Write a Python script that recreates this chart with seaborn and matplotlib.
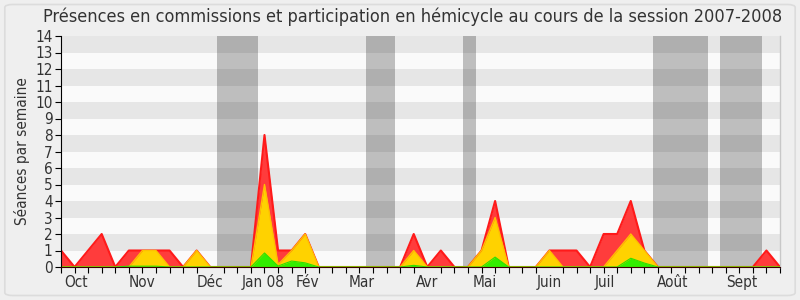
import numpy as np
import pandas as pd
import matplotlib
matplotlib.use("Agg")
import matplotlib.pyplot as plt
from matplotlib.patches import FancyBboxPatch
import seaborn as sns

# ---- data (weekly values, session 2007-2008) ----
weeks = list(range(54))
presence = [1, 0, 1, 2, 0, 1, 1, 1, 1, 0, 1, 0, 0, 0, 0, 8, 1, 1, 2, 0,
            0, 0, 0, 0, 0, 0, 2, 0, 1, 0, 0, 1, 4, 0, 0, 0, 1, 1, 1, 0,
            2, 2, 4, 1, 0, 0, 0, 0, 0, 0, 0, 0, 1, 0]
participation = [0, 0, 0, 0, 0, 0, 1, 1, 0, 0, 1, 0, 0, 0, 0, 5, 0.15, 1, 2, 0,
                 0, 0, 0, 0, 0, 0, 1, 0, 0, 0, 0, 1, 3, 0, 0, 0, 1, 0, 0, 0,
                 0, 1, 2, 1, 0, 0, 0, 0, 0, 0, 0, 0, 0, 0]
interventions = [0, 0, 0, 0, 0, 0.05, 0.05, 0.05, 0, 0, 0, 0, 0, 0, 0, 0.85, 0.06, 0.36, 0.25, 0,
                 0, 0, 0, 0, 0, 0, 0.1, 0, 0, 0, 0, 0, 0.6, 0, 0, 0, 0, 0, 0, 0,
                 0, 0, 0.53, 0.24, 0, 0, 0, 0, 0, 0, 0, 0, 0, 0]
holiday_start = [11.5, 22.5, 29.6, 43.65, 48.6]
holiday_end = [14.5, 24.6, 30.6, 47.7, 51.7]
month_labels = ["Oct", "Nov", "Déc", "Jan 08", "Fév", "Mar", "Avr", "Mai",
                "Juin", "Juil", "Août", "Sept"]
month_pos = [1.1, 5.95, 11.0, 14.9, 18.2, 22.2, 27.0, 31.2, 36.0, 40.1, 45.1, 50.2]

df = pd.DataFrame({"week": weeks, "presence": presence,
                   "participation": participation, "interventions": interventions})

sns.set_style("white")
plt.rcParams["font.family"] = ["DejaVu Sans"]
plt.rcParams["font.stretch"] = "condensed"

fig = plt.figure(figsize=(8, 3), dpi=100, facecolor="#efefef")
fig.patches.append(FancyBboxPatch((0.006, 0.015), 0.988, 0.97, boxstyle="round,pad=0,rounding_size=0.01",
                                  transform=fig.transFigure, facecolor="#efefef",
                                  edgecolor="#dcdcdc", linewidth=1.2, zorder=-10))
ax = fig.add_axes([0.07625, 0.11, 0.89875, 0.77])
ax.set_facecolor("#fafafa")

# alternating stripes
for k in range(1, 14, 2):
    ax.axhspan(k, k + 1, color="#e6e6e6", zorder=0, lw=0)
# holidays
for s, e in zip(holiday_start, holiday_end):
    ax.axvspan(s, e, color="black", alpha=0.24, zorder=1, lw=0)

ax.fill_between(df["week"], df["presence"], color="#ff3c3c", zorder=2, lw=0)
sns.lineplot(data=df, x="week", y="presence", color="#ff1a1a", lw=1.5, ax=ax, zorder=3)
ax.fill_between(df["week"], df["participation"], color="#ffd200", zorder=4, lw=0)
sns.lineplot(data=df, x="week", y="participation", color="#ffc000", lw=1.0, ax=ax, zorder=5)
ax.fill_between(df["week"], df["interventions"], color="#33ee00", zorder=6, lw=0)
sns.lineplot(data=df, x="week", y="interventions", color="#2ee000", lw=0.8, ax=ax, zorder=7)

ax.set_xlim(0, 53)
ax.set_ylim(0, 14)
ax.set_yticks(range(0, 15))
ax.set_yticklabels([str(v) for v in range(0, 15)], fontsize=11, color="#333333")
ax.set_xticks(weeks, minor=True)
ax.set_xticks(month_pos)
ax.set_xticklabels(month_labels, fontsize=11, color="#333333")
ax.tick_params(axis="x", which="major", length=0, pad=6)
ax.tick_params(axis="x", which="minor", length=4, width=0.8, color="black", direction="out",
               top=False, bottom=True)
ax.tick_params(axis="y", length=4, width=0.8, color="black", direction="out", pad=2, left=True)
ax.set_xlabel("")
ax.set_ylabel("Séances par semaine", fontsize=11, color="#333333", labelpad=4)

ax.spines["top"].set_visible(False)
ax.spines["right"].set_color("#c8c8c8")
ax.spines["right"].set_linewidth(1.0)
ax.spines["left"].set_color("black")
ax.spines["bottom"].set_color("#3a0000")
ax.spines["left"].set_zorder(10)
ax.spines["bottom"].set_zorder(10)

fig.text(413 / 800, 1 - 17 / 300, "Présences en commissions et participation en hémicycle au cours de la session 2007-2008",
         ha="center", va="center", fontsize=13, color="#333333")

fig.savefig("out.png", dpi=100, facecolor=fig.get_facecolor())
